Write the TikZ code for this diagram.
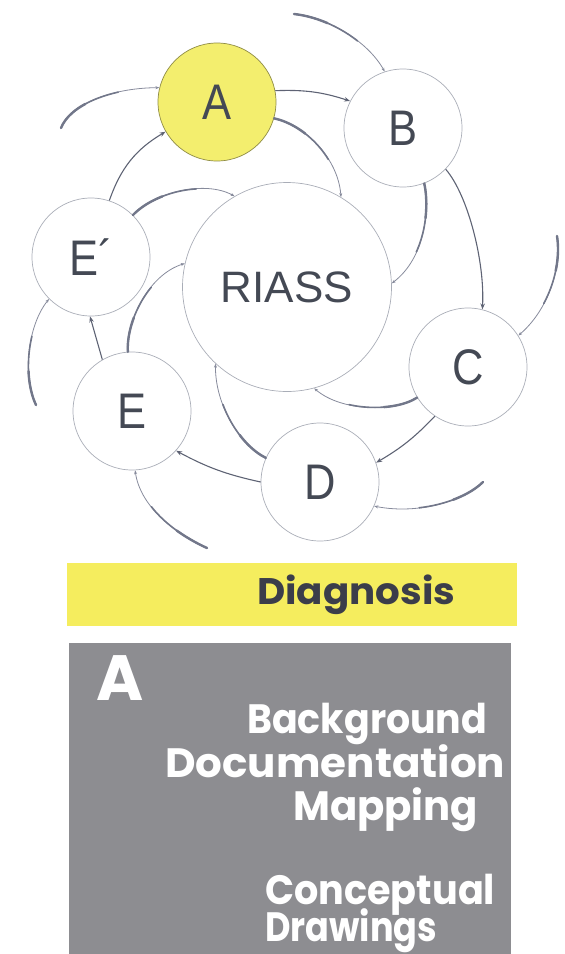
\documentclass[tikz,border=0pt]{standalone}
\usepackage{graphicx}
\usepackage{fontspec}
\newfontfamily\lsans{Liberation Sans}
\newfontfamily\pop{Poppins}
\usetikzlibrary{arrows.meta}
\definecolor{linec}{HTML}{72778A}
\definecolor{linedk}{HTML}{5E6374}
\definecolor{ringc}{HTML}{A9ADB7}
\definecolor{txtc}{HTML}{444954}
\definecolor{ayel}{HTML}{F3EE6E}
\definecolor{arim}{HTML}{8E8B45}
\definecolor{bandc}{HTML}{F5ED5E}
\definecolor{boxg}{HTML}{8D8D91}
\definecolor{diagc}{HTML}{3B3D4A}
\newcommand\fitw[2]{\resizebox{#1}{\height}{#2}}
\begin{document}
\begin{tikzpicture}[x=1pt,y=-1pt,
  stage/.style={circle, draw=ringc, line width=0.7pt, minimum size=118pt, inner sep=0pt,
    font=\lsans\fontsize{50}{50}\selectfont, text=txtc},
  hub/.style={stage, minimum size=209pt, font=\lsans\fontsize{44}{44}\selectfont},
  link/.style={draw=linedk, line width=1.1pt, -{Stealth[length=6pt,width=4.5pt]}},
  swirl/.style={draw=linec!85, line width=0.8pt, -{Stealth[length=4pt,width=3pt]},
    postaction={draw=linec, -, line width=1.6pt, line cap=round, dash pattern=on 70pt off 3000pt},
    postaction={draw=linec, -, line width=2.4pt, line cap=round, dash pattern=on 35pt off 3000pt}},
  boxtxt/.style={font=\pop\bfseries\fontsize{41}{41}\selectfont, text=white, anchor=base west, inner sep=0pt},
]
\useasboundingbox (0,0) rectangle (565,954);

% stages
\node[stage, fill=ayel, draw=arim] (A) at (217,102) {\scalebox{0.87}[1]{A}};
\node[stage] (B) at (403,128) {\scalebox{0.87}[1]{B}};
\node[stage] (C) at (468,367) {\scalebox{0.87}[1]{C}};
\node[stage] (D) at (320,482) {\scalebox{0.87}[1]{D}};
\node[stage] (E) at (132,411) {\scalebox{0.87}[1]{E}};
\node[stage] (Ep) at (91,257) {\scalebox{0.87}[1]{E´}};
\node[hub] (R) at (287,287) {RIASS};

% free ends of outer swirls
\coordinate (o1) at (294,14);
\coordinate (o2) at (61,128);
\coordinate (o3) at (557,236);
\coordinate (o4) at (483,482);
\coordinate (o5) at (207,548);
\coordinate (o6) at (36,405);

% outer swirls
\draw[swirl] (o1) .. controls (330,18) and (368,42) .. (B.108);
\draw[swirl] (o2) .. controls (70,105) and (110,88) .. (A.166);
\draw[swirl] (o3) .. controls (562,268) and (548,310) .. (C.32);
\draw[swirl] (o4) .. controls (465,500) and (420,515) .. (D.-24);
\draw[swirl] (o5) .. controls (172,532) and (140,505) .. (E.-87);
\draw[swirl] (o6) .. controls (22,375) and (28,325) .. (Ep.225);

% inner swirls to RIASS
\draw[swirl] (A.-16) .. controls (305,125) and (338,158) .. (R.59);
\draw[swirl] (Ep.45) .. controls (155,192) and (205,180) .. (R.120);
\draw[swirl] (B.-69) .. controls (430,210) and (425,258) .. (R.2);
\draw[swirl] (C.211) .. controls (395,412) and (342,412) .. (R.-75);
\draw[swirl] (D.156) .. controls (240,445) and (215,405) .. (R.227);
\draw[swirl] (E.94) .. controls (126,322) and (148,275) .. (R.167);

% direct links
\draw[link] (A.11) to[bend left=10] (B.153);
\draw[link] (B.-44) .. controls (468,195) and (485,262) .. (C.76);
\draw[link] (C.236) to[bend left=8] (D.19);
\draw[link] (D.180) to[bend left=8] (E.-42);
\draw[link] (E.120) -- (Ep.-91);
\draw[link] (Ep.72) to[bend left=20] (A.210);

% legend
\fill[bandc] (67,563) rectangle (517,626);
\node[font=\pop\bfseries\fontsize{37}{37}\selectfont, text=diagc, anchor=base west, inner sep=0pt] (diag) at (257,604) {\fitw{198pt}{Diagnosis}};
\fill[boxg] (69,643) rectangle (511,954);
\node[boxtxt, font=\pop\bfseries\fontsize{64}{64}\selectfont] (bigA) at (96,700) {A};
\node[boxtxt] (t1) at (247,733) {\fitw{240pt}{Background}};
\node[boxtxt] (t2) at (165,777) {\fitw{340pt}{Documentation}};
\node[boxtxt] (t3) at (293,820) {\fitw{185pt}{Mapping}};
\node[boxtxt] (t4) at (265,904) {\fitw{230pt}{Conceptual}};
\node[boxtxt] (t5) at (265,941) {\fitw{172pt}{Drawings}};
\end{tikzpicture}
\end{document}
